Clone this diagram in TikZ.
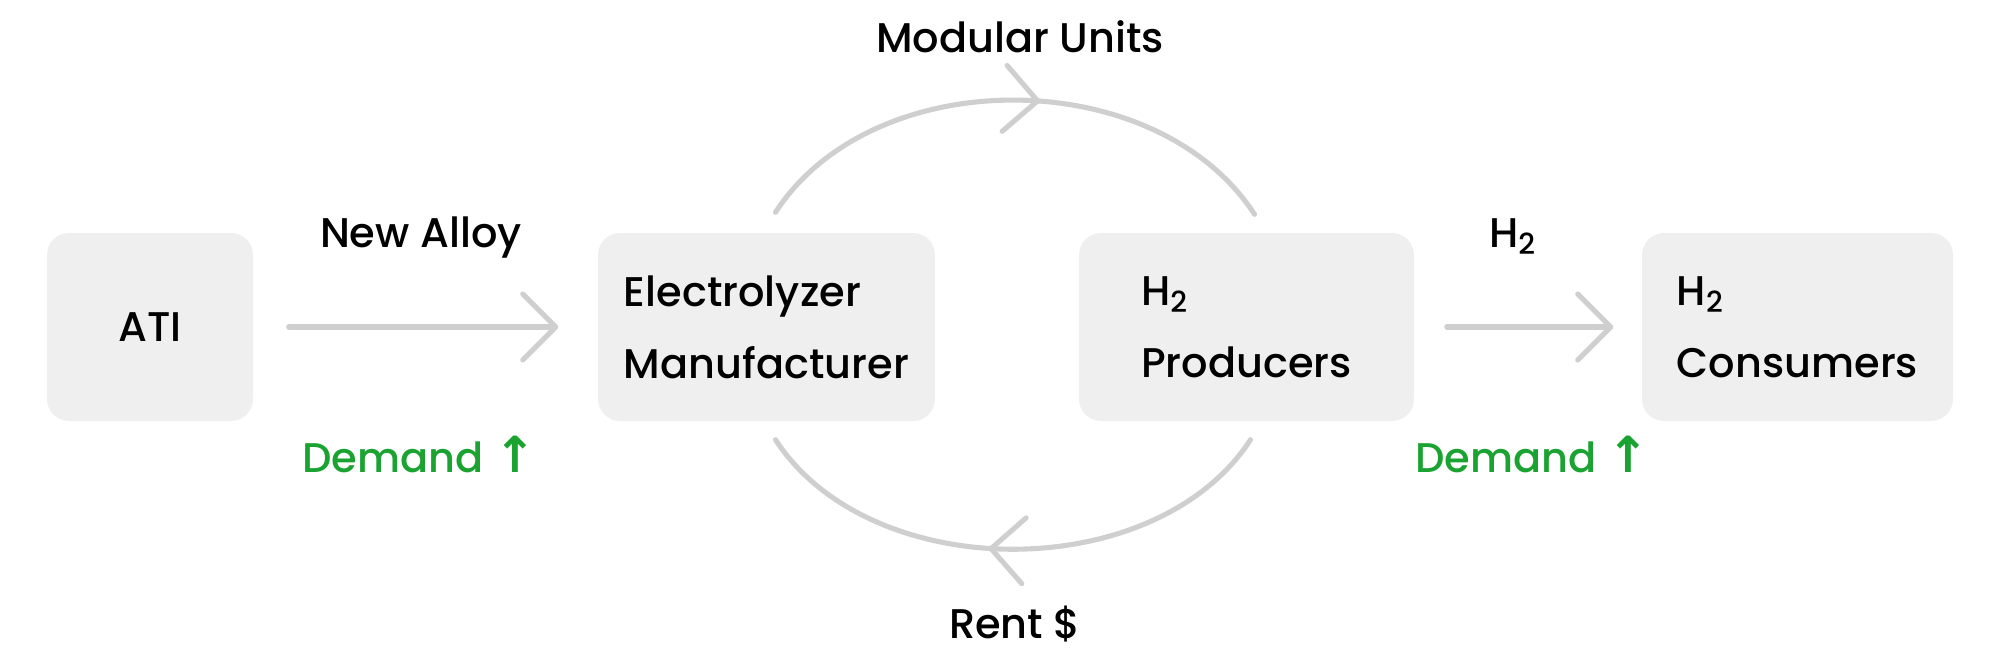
\documentclass[tikz,border=0pt]{standalone}
\usepackage{fontspec}
\setmainfont{Poppins Medium}
\newfontfamily\arrowfont{DejaVu Sans Bold}
\usepackage{tikz}
\usepackage{xcolor}
\usetikzlibrary{arrows.meta,decorations.markings}
\definecolor{boxgray}{HTML}{EFEFEF}
\definecolor{linegray}{HTML}{CFCFCF}
\definecolor{upgreen}{HTML}{1BA332}
\tikzset{block/.style={fill=boxgray,rounded corners=0.22cm,minimum height=1.88cm,align=left,inner sep=0pt,font=\fontsize{11.8}{20.5}\selectfont}}
\tikzset{lbl/.style={anchor=base,inner sep=0pt,font=\fontsize{11.8}{14}\selectfont}}
\tikzset{flow/.style={linegray,line width=1.45pt,line cap=round,-{Straight Barb[length=3.3mm,width=6.6mm,round]}}}
\tikzset{cycle/.style={linegray,line width=1.45pt,line cap=round,postaction={decorate},
    decoration={markings,mark=at position 0.545 with {\arrow{Straight Barb[length=3.3mm,width=6.6mm,round]}}}}}
\newcommand{\up}{{\arrowfont\scalebox{1.2}{↑}}}

\begin{document}
\begin{tikzpicture}
            \useasboundingbox (0,0) rectangle (20,6.57);
            % draw the boxes
            \node[block,minimum width=2.06cm] (ati) at (1.50,3.30) {ATI};
            \node[block,minimum width=3.37cm] (elec) at (7.665,3.30) {Electrolyzer\\Manufacturer};
            \node[block,minimum width=3.35cm] (prod) at (12.465,3.30) {H\textsubscript{2}\\Producers};
            \node[block,minimum width=3.11cm] (cons) at (17.975,3.30) {H\textsubscript{2}\\Consumers};
            % draw the straight flows
            \draw[flow,shorten <=0.35cm,shorten >=0.39cm] (ati.east) -- (elec.west);
            \draw[flow,shorten <=0.32cm,shorten >=0.28cm] (prod.east) -- (cons.west);
            % draw the loop (rental cycle)
            \draw[cycle] ([shift={(0.09,0.20)}]elec.north) to[out=57,in=123,looseness=0.96] ([shift={(0.08,0.18)}]prod.north);
            \draw[cycle] ([shift={(0.04,-0.18)}]prod.south) to[out=-123,in=-57,looseness=0.94] ([shift={(0.09,-0.18)}]elec.south);
            % labels
            \node[lbl] (alloy) at (4.21,4.10) {New Alloy};
            \node[lbl,upgreen] (dem1) at (4.19,1.85) {Demand \up};
            \node[lbl] (units) at (10.20,6.05) {Modular Units};
            \node[lbl] (rent) at (10.15,0.19) {Rent \$};
            \node[lbl] (gas) at (15.13,4.10) {H\textsubscript{2}};
            \node[lbl,upgreen] (dem2) at (15.32,1.85) {Demand \up};
        \end{tikzpicture}
\end{document}
